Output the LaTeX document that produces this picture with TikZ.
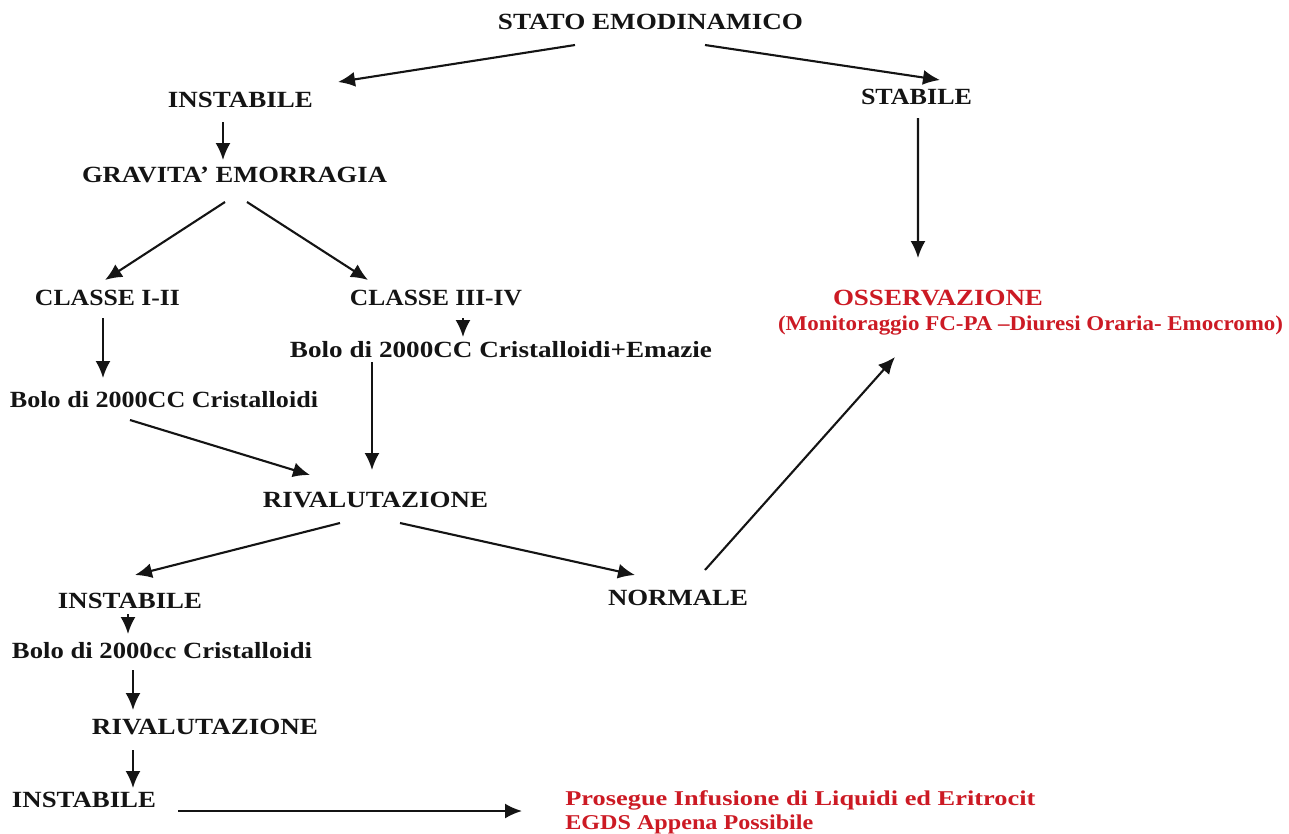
\documentclass[tikz,border=0pt]{standalone}
\usepackage{fontspec}
\setmainfont{Liberation Serif}
\usepackage{graphicx}
\usepackage{xcolor}
\usepackage{tikz}
\usetikzlibrary{calc,arrows.meta}
\definecolor{ink}{HTML}{141414}
\definecolor{rosso}{HTML}{CC1A24}
\newlength{\pxu}
\setlength{\pxu}{0.02cm}
\newcommand{\wfit}[2]{\resizebox{#1\pxu}{\height}{#2}}
\tikzset{
  lab/.style={text=ink, font=\bfseries\fontsize{13.2pt}{15pt}\selectfont, inner sep=0pt, text height=0.3cm, text depth=0pt},
  labr/.style={lab, text=rosso},
  labs/.style={labr, font=\bfseries\fontsize{12pt}{14pt}\selectfont, text height=0.27cm},
  arr/.style={draw=ink, line width=1.2pt, -{Latex[length=3.4mm,width=3mm]}},
}

\begin{document}
\begin{tikzpicture}[x=0.02cm, y=-0.02cm]
  \useasboundingbox (0,0) rectangle (1289,833);
  % nodes
  \node[lab] (stato)   at (650.5,22)  {\wfit{305}{STATO EMODINAMICO}};
  \node[lab] (instab1) at (240.5,100) {\wfit{145}{INSTABILE}};
  \node[lab] (stabile) at (916.5,97)  {\wfit{111}{STABILE}};
  \node[lab] (grav)    at (234.5,175) {\wfit{305}{GRAVITA’ EMORRAGIA}};
  \node[lab] (c12)     at (107.5,298) {\wfit{145}{CLASSE I-II}};
  \node[lab] (c34)     at (436,298)   {\wfit{172}{CLASSE III-IV}};
  \node[lab] (bolo2)   at (501,350)   {\wfit{422}{Bolo di 2000CC Cristalloidi+Emazie}};
  \node[labr] (osserv) at (938,298)   {\wfit{210}{OSSERVAZIONE}};
  \node[labs] (monit)  at (1030.5,324) {\wfit{505}{(Monitoraggio FC-PA –Diuresi Oraria- Emocromo)}};
  \node[lab] (bolo1)   at (164,400)   {\wfit{308}{Bolo di 2000CC Cristalloidi}};
  \node[lab] (rival1)  at (375.5,500) {\wfit{225}{RIVALUTAZIONE}};
  \node[lab] (instab2) at (130,601)   {\wfit{144}{INSTABILE}};
  \node[lab] (normale) at (678,598)   {\wfit{140}{NORMALE}};
  \node[lab] (bolo3)   at (162,651)   {\wfit{300}{Bolo di 2000cc Cristalloidi}};
  \node[lab] (rival2)  at (205,727)   {\wfit{226}{RIVALUTAZIONE}};
  \node[lab] (instab3) at (84,800)    {\wfit{144}{INSTABILE}};
  \node[labs, anchor=west] (prosegue) at (565,799) {\wfit{470}{Prosegue Infusione di Liquidi ed Eritrocit}};
  \node[labs, anchor=west] (egds)     at (565,823) {\wfit{248}{EGDS Appena Possibile}};
  % connectors
  \draw[arr] ($(stato)+(-75.5,23)$) -- ($(instab1)+(97.5,-18)$);
  \draw[arr] ($(stato)+(54.5,23)$) -- ($(stabile)+(23.5,-17)$);
  \draw[arr] ($(instab1)+(-17.5,22)$) -- ($(grav)+(-11.5,-15)$);
  \draw[arr] ($(grav)+(-9.5,27)$) -- ($(c12)+(-2.5,-18)$);
  \draw[arr] ($(grav)+(12.5,27)$) -- ($(c34)+(-68,-18)$);
  \draw[arr] ($(c34)+(27,20)$) -- ($(bolo2)+(-38,-13)$);
  \draw[arr] ($(bolo2)+(-129,12)$) -- ($(rival1)+(-3.5,-30)$);
  \draw[arr] ($(stabile)+(1.5,21)$) -- ($(osserv)+(-20,-40)$);
  \draw[arr] ($(c12)+(-4.5,20)$) -- ($(bolo1)+(-61,-22)$);
  \draw[arr] ($(bolo1)+(-34,20)$) -- ($(rival1)+(-65.5,-25)$);
  \draw[arr] ($(rival1)+(-35.5,23)$) -- ($(instab2)+(5,-26)$);
  \draw[arr] ($(rival1)+(24.5,23)$) -- ($(normale)+(-43,-23)$);
  \draw[arr] ($(normale)+(27,-28)$) -- ($(monit)+(-135.5,33)$);
  \draw[arr] ($(instab2)+(-2,13)$) -- ($(bolo3)+(-34,-17)$);
  \draw[arr] ($(bolo3)+(-29,19)$) -- ($(rival2)+(-72,-17)$);
  \draw[arr] ($(rival2)+(-72,23)$) -- ($(instab3)+(49,-12)$);
  \draw[arr] ($(instab3)+(94,11)$) -- ($(prosegue.west)+(-43,12)$);
\end{tikzpicture}
\end{document}
